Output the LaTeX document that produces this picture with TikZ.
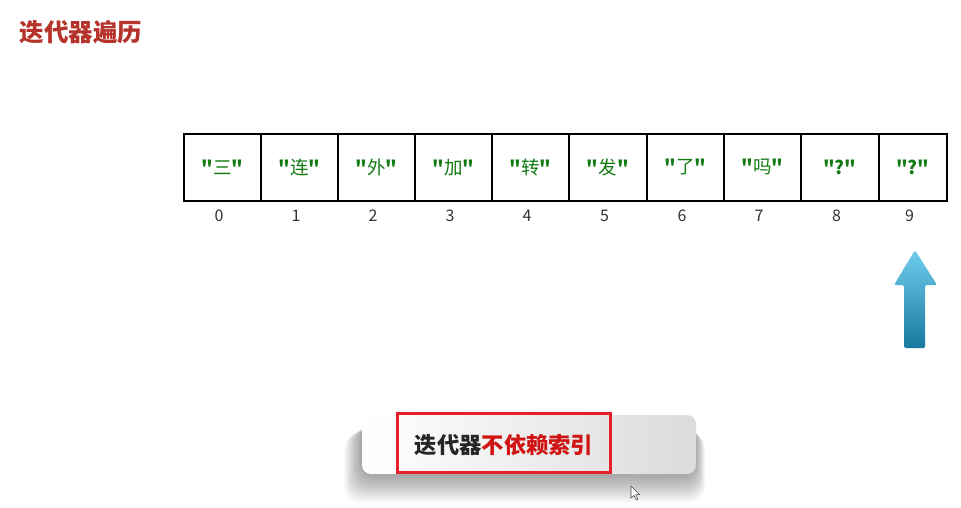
\documentclass[tikz,border=0pt]{standalone}
\usepackage{fontspec}
\setmainfont{Noto Sans CJK SC}
\newfontfamily\cjk{Noto Sans CJK SC}
\usetikzlibrary{positioning}
\definecolor{titlered}{HTML}{B5332A}
\definecolor{cellgreen}{HTML}{117A11}
\definecolor{arrowtop}{HTML}{70CDEE}
\definecolor{arrowbot}{HTML}{17799F}
\definecolor{boxred}{HTML}{E5202B}
\definecolor{textred}{HTML}{D01414}
\definecolor{textdark}{HTML}{262626}
\tikzset{
  cell/.style={draw=black, line width=1.8pt, minimum height=67pt, inner sep=0pt, anchor=north west, font=\cjk\fontsize{18.5}{20}\selectfont, text=cellgreen},
  idx/.style={font=\cjk\fontsize{16}{18}\selectfont, text=black!80},
}
\newcommand{\q}[1]{\textbf{"}#1\textbf{"}}
\begin{document}
\begin{tikzpicture}[x=1pt,y=-1pt]
\useasboundingbox (0,0) rectangle (961,507);
\fill[white] (0,0) rectangle (961,507);
% title
\node[anchor=west, text=titlered, font=\cjk\bfseries\fontsize{24.5}{27}\selectfont] (title) at (16,32) {迭代器遍历};
% cells
\def\xs{{183,260,337,414,491,568,646,723,800,878,946}}
\foreach \i/\t in {0/三,1/连,2/外,3/加,4/转,5/发,6/了,7/吗,8/\textbf{?},9/\textbf{?}}{
  \pgfmathsetmacro{\xa}{\xs[\i]}
  \pgfmathsetmacro{\xb}{\xs[\i+1]}
  \pgfmathsetmacro{\w}{\xb-\xa}
  \node[cell, minimum width=\w pt] (c\i) at (\xa,133) {\q{\t}};
  \node[idx] (n\i) at ({(\xa+\xb)/2-2.5},216) {\i};
}
% arrow
\shade[top color=arrowtop, bottom color=arrowbot, rounded corners=1.5pt]
  (915,250) -- (937,285) -- (925,285) -- (925,348) -- (904,348) -- (904,285) -- (894,285) -- cycle;
% shadow of bottom box
\foreach \k in {1,...,22}{
  \fill[black, opacity=0.018, rounded corners=16pt]
    ({364-\k*0.9},{420+\k*0.6}) rectangle ({694+\k*0.5},{470+\k*1.5});
}
% bottom box
\shade[left color=white, right color=black!14, rounded corners=9pt] (362,415) rectangle (696,474);
\node[draw=boxred, line width=3pt, minimum width=213pt, minimum height=59pt, inner sep=0pt] (redbox) at (503.5,442.5) {};
\node[font=\cjk\bfseries\fontsize{22.3}{25}\selectfont] (msg) at (504,445) {\textcolor{textdark}{迭代器}\textcolor{textred}{不依赖索引}};
% cursor
\filldraw[fill=white, draw=black!70, line width=0.6pt, line join=round]
  (631,486) -- (631,498) -- (634,495.5) -- (636.5,500) -- (638,499.2) -- (635.8,494.8) -- (639.5,494.5) -- cycle;
\end{tikzpicture}
\end{document}
